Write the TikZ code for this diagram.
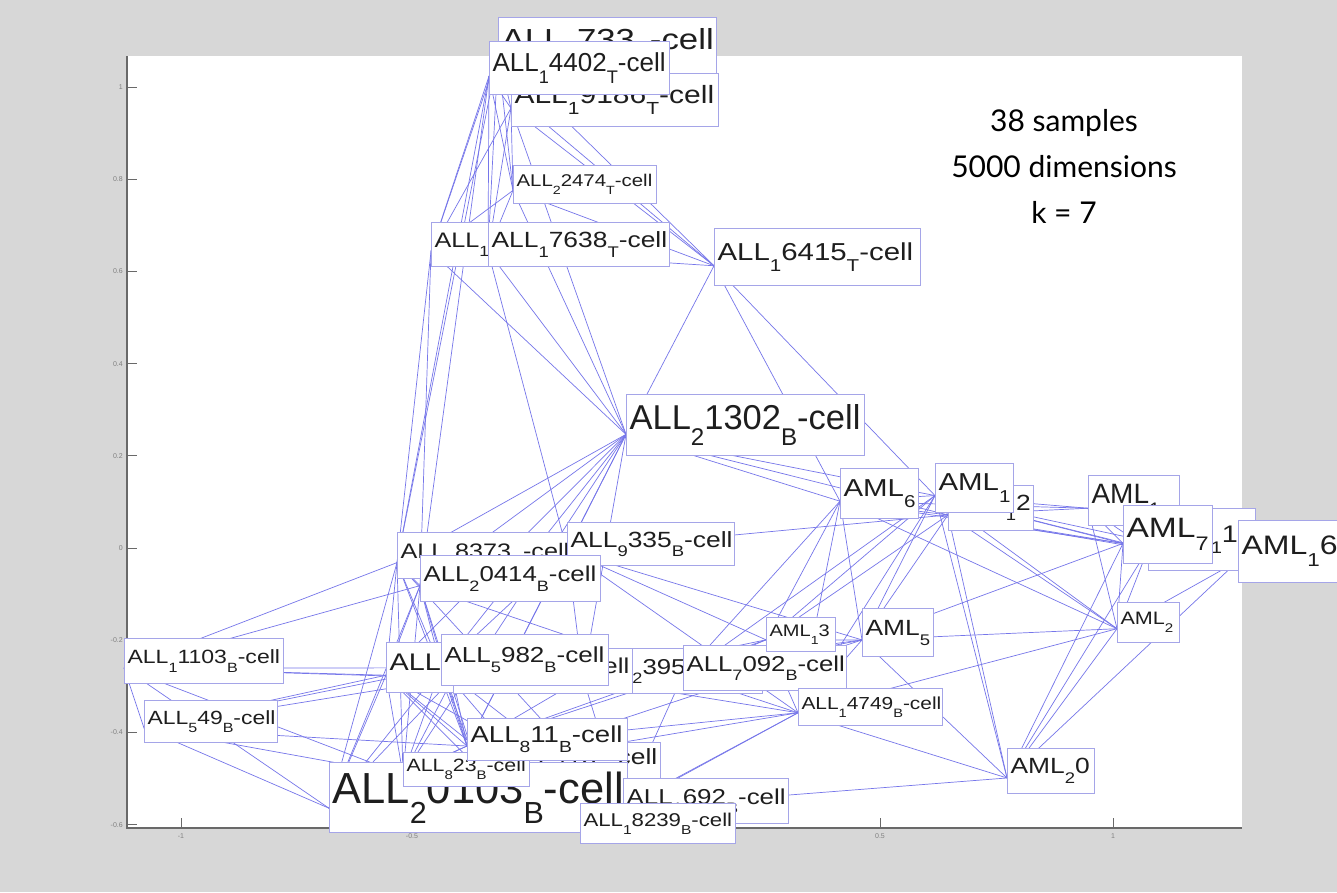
\documentclass[tikz,border=0pt]{standalone}
\usepackage{fontspec}
\setmainfont{Liberation Sans}
\newfontfamily\wsans{Liberation Sans}[FakeStretch=1.2]
\newfontfamily\titlefont{Lato}
\usetikzlibrary{calc}
\pgfdeclarelayer{back}
\pgfdeclarelayer{edges}
\pgfsetlayers{back,edges,main}
\definecolor{bgc}{RGB}{215,215,215}
\definecolor{boxc}{RGB}{165,165,232}
\definecolor{edgec}{RGB}{118,118,234}
\definecolor{txtc}{RGB}{30,30,30}
\definecolor{axc}{RGB}{105,105,105}
\newcommand\ssub[1]{\raisebox{-0.45em}{\scalebox{0.7}{#1}}}
% name, x, y, w, h, size, fontcmd, text
\newcommand\lbl[8]{%
  \node[labbox,minimum height=#5pt,font=#7\fontsize{#6}{#6}\selectfont] (#1) at (#2,#3)
    {\makebox[\dimexpr#4pt-6pt\relax][l]{#8}};
  \coordinate (p#1) at ($(#1.north west)!0.65!(#1.south west)$);}
\begin{document}
\begin{tikzpicture}[x=1pt,y=-1pt,
  labbox/.style={draw=boxc,line width=1.1pt,fill=white,text=txtc,inner xsep=3pt,inner ysep=0pt,anchor=north west},
  edge/.style={draw=edgec,line width=0.7pt},
  tickmark/.style={draw=axc,line width=1pt},
  ticklab/.style={font=\fontsize{7}{7}\selectfont,text=gray,inner sep=1pt},
  axisline/.style={draw=axc,line width=1.6pt}]
\useasboundingbox (0,0) rectangle (1337,892);
\begin{pgfonlayer}{back}
\fill[bgc] (0,0) rectangle (1337,892);
\fill[white] (127,56) rectangle (1242,828);
\draw[axisline] (127,56) -- (127,828) -- (1242,828);
\foreach \yy/\tt [count=\i] in {87/1,179.2/0.8,271.4/0.6,363.6/0.4,455.8/0.2,548/0,640.2/-0.2,732.4/-0.4,824.6/-0.6}{
  \draw[tickmark] (127,\yy) -- (137,\yy);
  \node[ticklab,anchor=east] (ytl\i) at (124,\yy) {\tt};}
\foreach \xx/\tt [count=\i] in {181/-1,412/-0.5,880/0.5,1113/1}{
  \draw[tickmark] (\xx,828) -- (\xx,818);
  \node[ticklab,anchor=north] (xtl\i) at (\xx,832) {\tt};}
\draw[tickmark] (647,828) -- (647,818);
\end{pgfonlayer}

% T-cells
\lbl{t1}{498}{17}{218}{56}{29}{\wsans}{ALL\ssub{1}733\ssub{T}-cell}
\lbl{t3}{511}{73}{207}{53}{25}{\wsans}{ALL\ssub{1}9186\ssub{T}-cell}
\lbl{t2}{489}{41}{180}{53}{26}{\rmfamily}{ALL\ssub{1}4402\ssub{T}-cell}
\lbl{t4}{513}{165}{143}{38}{17}{\wsans}{ALL\ssub{2}2474\ssub{T}-cell}
\lbl{t5}{431}{222}{200}{44}{21}{\wsans}{ALL\ssub{1}6931\ssub{T}-cell}
\lbl{t6}{488}{222}{181}{44}{22}{\wsans}{ALL\ssub{1}7638\ssub{T}-cell}
\lbl{t7}{714}{228}{206}{57}{24.5}{\wsans}{ALL\ssub{1}6415\ssub{T}-cell}
% B-cells
\lbl{b1302}{626}{394}{238}{61}{34.5}{\rmfamily}{ALL\ssub{2}1302\ssub{B}-cell}
\lbl{b8373}{397}{532}{178}{46}{21}{\wsans}{ALL\ssub{1}8373\ssub{B}-cell}
\lbl{b335}{567}{522}{167}{43}{22}{\wsans}{ALL\ssub{9}335\ssub{B}-cell}
\lbl{b0414}{420}{555}{180}{46}{21.5}{\wsans}{ALL\ssub{2}0414\ssub{B}-cell}
\lbl{b1103}{124}{638}{159}{45}{19.2}{\wsans}{ALL\ssub{1}1103\ssub{B}-cell}
\lbl{b49}{144}{700}{133}{42}{19.1}{\wsans}{ALL\ssub{5}49\ssub{B}-cell}
\lbl{ball}{386}{642}{200}{50}{24}{\wsans}{ALL\ssub{1}6920\ssub{B}-cell}
\lbl{b2395}{583}{648}{179}{45}{21.5}{\wsans}{ALL\ssub{2}3950\ssub{B}-cell}
\lbl{bA}{453}{648}{179}{45}{21.5}{\wsans}{ALL\ssub{3}1247\ssub{B}-cell}
\lbl{b982}{441}{634}{167}{51}{21.7}{\wsans}{ALL\ssub{5}982\ssub{B}-cell}
\lbl{b7092}{683}{645}{163}{45}{21.5}{\wsans}{ALL\ssub{7}092\ssub{B}-cell}
\lbl{a13}{766}{617}{69}{34}{16.7}{\wsans}{AML\ssub{1}3}
\lbl{b4749}{798}{688}{144}{37}{17.4}{\wsans}{ALL\ssub{1}4749\ssub{B}-cell}
\lbl{bell}{477}{742}{183}{37}{22}{\wsans}{ALL\ssub{6}2418\ssub{B}-cell}
\lbl{b0105}{329}{762}{298}{70}{43.5}{\rmfamily}{ALL\ssub{2}0103\ssub{B}-cell}
\lbl{b823}{403}{752}{126}{34}{17.8}{\wsans}{ALL\ssub{8}23\ssub{B}-cell}
\lbl{b811}{467}{718}{160}{42}{23}{\wsans}{ALL\ssub{8}11\ssub{B}-cell}
\lbl{b692}{623}{778}{165}{45}{21.6}{\wsans}{ALL\ssub{1}692\ssub{B}-cell}
\lbl{b8239}{580}{803}{155}{40}{18.5}{\wsans}{ALL\ssub{1}8239\ssub{B}-cell}
% AML
\lbl{a6}{840}{468}{78}{50}{24.5}{\wsans}{AML\ssub{6}}
\lbl{a12}{948}{485}{85}{45}{22}{\wsans}{AML\ssub{1}2}
\lbl{a1}{935}{463}{78}{49}{24.5}{\wsans}{AML\ssub{1}}
\lbl{a0}{1088}{475}{91}{50}{28}{\rmfamily}{AML\ssub{1}}
\lbl{a71}{1148}{508}{107}{62}{24}{\wsans}{AML\ssub{1}1}
\lbl{a7}{1123}{505}{89}{58}{28}{\wsans}{AML\ssub{7}}
\lbl{a16}{1238}{520}{110}{62}{26.7}{\wsans}{AML\ssub{1}6}
\lbl{a2}{1117}{602}{62}{40}{18}{\wsans}{AML\ssub{2}}
\lbl{a5}{862}{608}{71}{48}{22}{\wsans}{AML\ssub{5}}
\lbl{a20}{1007}{748}{87}{45}{22}{\wsans}{AML\ssub{2}0}

\node[font=\titlefont\fontsize{30}{46}\selectfont,align=center,text=black] (title) at (1064,166)
  {38 samples\\5000 dimensions\\k = 7};

\begin{pgfonlayer}{edges}
\foreach \a/\b in {t1/t2,t1/t3,t1/t4,t1/t5,t1/t6,t2/t3,t2/t4,t2/t5,t2/t6,t3/t4,t3/t5,t3/t6,t4/t5,t4/t6,t5/t6,
  t1/t7,t3/t7,t4/t7,t6/t7,t2/t7,
  t2/b8373,t1/b8373,t5/b8373,t5/b0414,t2/b0414,t6/b1302,t5/b1302,t3/b1302,t7/b1302,t6/b335,t4/b1302,
  t7/a6,t7/a1,
  b1302/b8373,b1302/b0414,b1302/ball,b1302/b982,b1302/b335,b1302/b2395,b1302/a6,b1302/a1,b1302/a12,b1302/b823,b1302/b811,
  b8373/b0414,b8373/b1103,b8373/ball,b8373/b982,b8373/b0105,b8373/b335,b8373/b811,b8373/b823,b8373/b692,
  b0414/b1103,b0414/ball,b0414/b982,b0414/b0105,b0414/b811,b0414/b823,b0414/b335,b0414/bell,b0414/b7092,
  b335/b982,b335/b2395,b335/a13,b335/a5,b335/b811,b335/a12,b335/b4749,
  b1103/b49,b1103/ball,b1103/b982,b1103/b0105,b1103/b823,b1103/bA,
  b49/ball,b49/b0105,b49/b982,b49/b811,b49/b823,b49/bA,
  ball/b982,ball/b0105,ball/b823,ball/b811,ball/bell,ball/b692,ball/b8239,ball/bA,
  b982/b0105,b982/b823,b982/b811,b982/bell,b982/b692,b982/b2395,b982/b7092,b982/b8239,
  bA/b0105,bA/b823,bA/b811,bA/b2395,
  b2395/b7092,b2395/b692,b2395/b811,b2395/b4749,b2395/a5,b2395/a13,
  b7092/a13,b7092/a5,b7092/b4749,b7092/a6,b7092/a1,b7092/b692,b7092/b811,
  b0105/b823,b0105/b811,b0105/bell,b0105/b692,b0105/b8239,
  b823/b811,b823/bell,b823/b692,b823/b8239,
  b811/bell,b811/b692,b811/b8239,b811/b4749,b811/a13,
  bell/b692,bell/b8239,bell/b4749,bell/a5,
  b692/b8239,b692/b4749,b692/a20,b8239/b4749,
  b4749/a20,b4749/a5,b4749/a13,b4749/a1,b4749/a2,
  a6/a1,a6/a12,a6/a5,a6/a13,a6/a0,a6/a7,a6/a2,a6/b4749,
  a1/a12,a1/a0,a1/a7,a1/a71,a1/a16,a1/a2,a1/a5,a1/a13,a1/a20,
  a12/a0,a12/a7,a12/a71,a12/a2,a12/a5,a12/a20,a12/a13,
  a0/a7,a0/a71,a0/a16,a0/a2,
  a7/a71,a7/a16,a7/a2,a7/a20,a7/a5,
  a71/a16,a71/a2,a71/a20,a16/a2,a16/a20,
  a2/a20,a2/a5,a5/a13,a5/a20}
  {\draw[edge] (p\a) -- (p\b);}
\end{pgfonlayer}
\end{tikzpicture}
\end{document}
